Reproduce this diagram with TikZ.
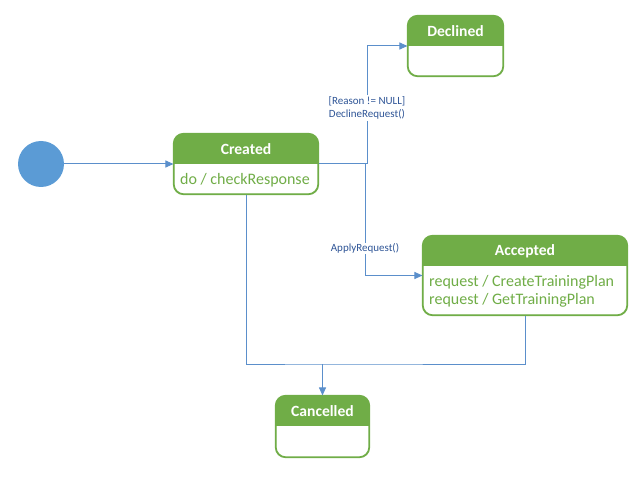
\documentclass[tikz,border=0pt]{standalone}
\usepackage{fontspec}
\setmainfont{Carlito}
\usetikzlibrary{arrows.meta}
\definecolor{hdr}{HTML}{70AD47}
\definecolor{ln}{HTML}{5B8FCB}
\definecolor{lbl}{HTML}{2F5597}
\definecolor{initc}{HTML}{5B9BD5}
\tikzset{
  statebox/.style={draw=hdr, line width=1.1pt, fill=white, rounded corners=10pt, inner sep=0pt},
  titletext/.style={text=white, font=\fontsize{15.6}{17}\selectfont\bfseries},
  bodytext/.style={text=hdr, font=\fontsize{16}{19}\selectfont, anchor=west, align=left, inner sep=0pt},
  wire/.style={draw=ln, line width=1pt},
  conn/.style={wire, -{Triangle[length=8pt,width=7pt]}},
  lbltext/.style={text=lbl, font=\fontsize{11}{13.5}\selectfont, fill=white, inner sep=1pt, align=center},
}
\newcommand\headerfill[2]{%
  \begin{scope}
    \clip[rounded corners=10pt] (#1.north west) rectangle (#1.south east);
    \fill[hdr] (#1.north west) rectangle ([yshift=-#2]#1.north east);
  \end{scope}
  \draw[hdr, line width=1.1pt, rounded corners=10pt] (#1.north west) rectangle (#1.south east);
}
\begin{document}
\begin{tikzpicture}[x=1pt,y=-1pt]
\useasboundingbox (0,0) rectangle (635,481);

% initial state
\node[circle, fill=initc, minimum size=46pt, inner sep=0pt] (init) at (41,164) {};

% Created
\node[statebox, minimum width=144pt, minimum height=60pt] (created) at (246,164) {};
\headerfill{created}{31pt}
\node[titletext] (createdt) at (246,149.5) {Created};
\node[bodytext] (createdb) at (180,180) {do / checkResponse};

% Declined
\node[statebox, minimum width=95pt, minimum height=60pt] (declined) at (455.5,46) {};
\headerfill{declined}{31pt}
\node[titletext] (declinedt) at (455.5,31.5) {Declined};

% Accepted
\node[statebox, minimum width=204pt, minimum height=79pt] (accepted) at (525,275.5) {};
\headerfill{accepted}{31pt}
\node[titletext] (acceptedt) at (525,251.5) {Accepted};
\node[bodytext] (acceptedb1) at (429,282) {request / CreateTrainingPlan};
\node[bodytext] (acceptedb2) at (429,300.5) {request / GetTrainingPlan};

% Cancelled
\node[statebox, minimum width=93pt, minimum height=61pt] (cancelled) at (322.5,426.5) {};
\headerfill{cancelled}{31pt}
\node[titletext] (cancelledt) at (322.5,411.5) {Cancelled};

% connectors
\coordinate (dsplit) at (367,164);
\coordinate (asplit) at (365,164);
\coordinate (cjoin) at (322.5,364);

\draw[conn] (init) -- (created.west);
\draw[conn] (created.east) -- (dsplit) |- (declined.west);
\draw[conn] (asplit) |- (accepted.west);
\draw[wire] (created.south) |- (cjoin) -| (accepted.south);
\draw[conn] (cjoin) -- (cancelled.north);

% labels
\node[lbltext] (declbl) at (367,108) {[Reason != NULL]\\DeclineRequest()};
\node[lbltext] (applbl) at (365,248.5) {ApplyRequest()};
\end{tikzpicture}
\end{document}
